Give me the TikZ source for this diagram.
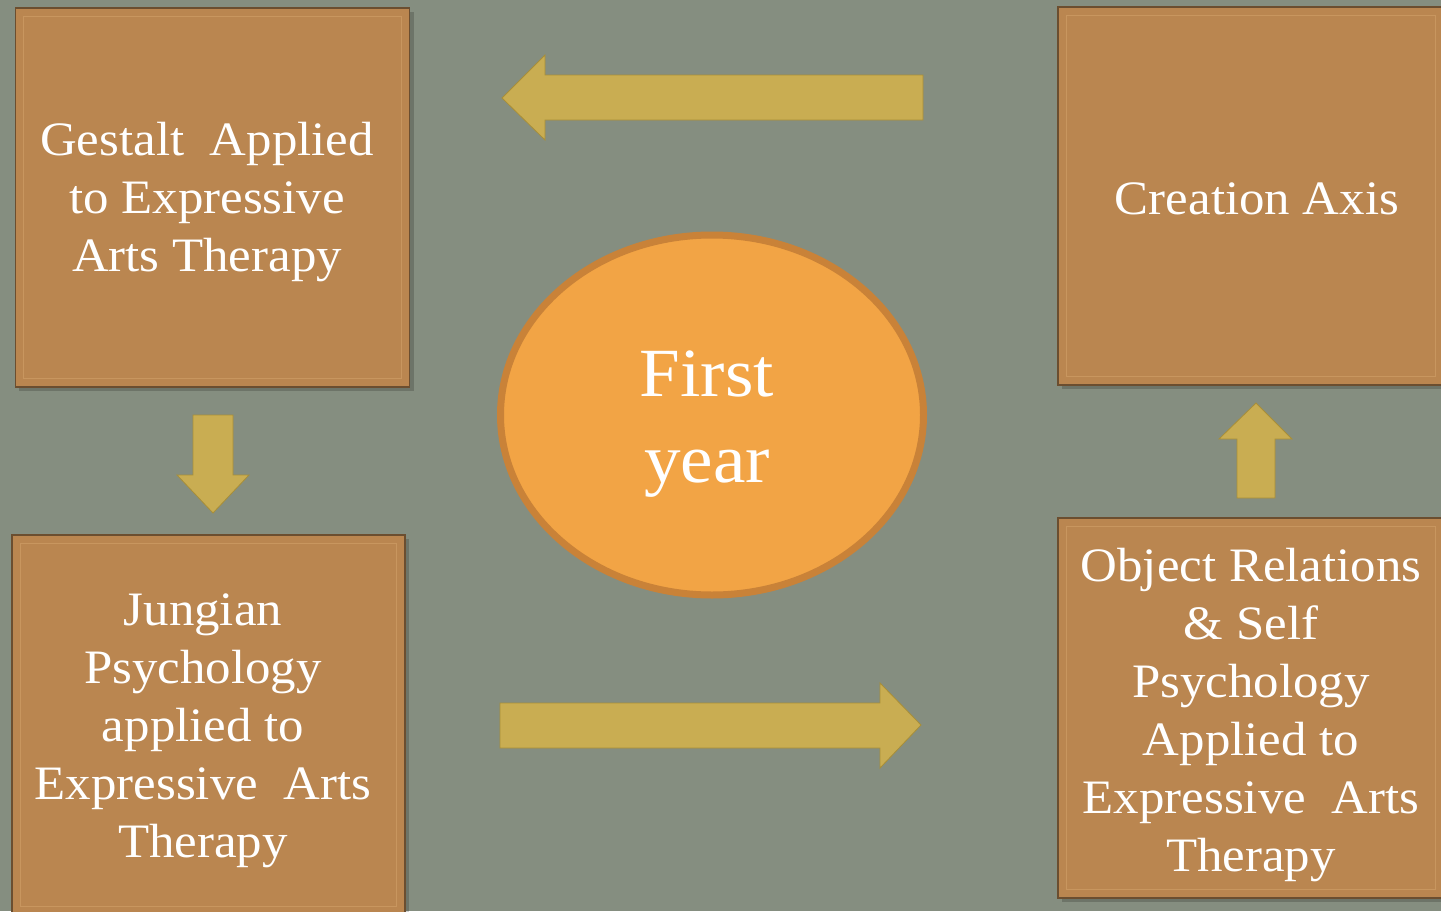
\documentclass[tikz,border=0pt]{standalone}
\usepackage{fontspec}
\setmainfont{Liberation Serif}[FakeStretch=1.06]
\usetikzlibrary{shapes.geometric}
\definecolor{bgc}{HTML}{858E80}
\definecolor{boxc}{HTML}{BA8650}
\definecolor{boxd}{HTML}{6B4E30}
\definecolor{boxl}{HTML}{CF9D66}
\definecolor{arrc}{HTML}{C9AD52}
\definecolor{arrd}{HTML}{A88E38}
\definecolor{circf}{HTML}{F2A445}
\definecolor{circd}{HTML}{C98238}
\tikzset{
  boxnode/.style={rectangle, fill=boxc, draw=boxd, line width=1.5pt, inner sep=0pt},
  boxtext/.style={text=white, align=center, font=\fontsize{48}{58}\selectfont},
  bevel/.style={draw=boxl, line width=1pt, opacity=0.7},
  shadowbox/.style={fill=black, opacity=0.18},
  blockarrow/.style={fill=arrc, draw=arrd, line width=0.8pt, line join=miter},
}
\begin{document}
\begin{tikzpicture}[x=1pt,y=-1pt]
\useasboundingbox (0,0) rectangle (1441,911);
\fill[bgc] (0,0) rectangle (1441,911);
% shadows
\fill[shadowbox] (19,12) rectangle (414,391);
\fill[shadowbox] (16,539) rectangle (409,915);
\fill[shadowbox] (1062,11) rectangle (1445,389);
\fill[shadowbox] (1062,522) rectangle (1445,902);
% boxes
\node[boxnode, minimum width=394pt, minimum height=379pt] (gestalt) at (212.5,197.5) {};
\node[boxnode, minimum width=393pt, minimum height=380pt] (jung) at (208.5,725) {};
\node[boxnode, minimum width=386pt, minimum height=378pt] (axis) at (1251,196) {};
\node[boxnode, minimum width=386pt, minimum height=380pt] (objrel) at (1251,708) {};
\foreach \b in {gestalt,jung,axis,objrel}{
  \draw[bevel] ([shift={(9pt,9pt)}]\b.south west) rectangle ([shift={(-9pt,-9pt)}]\b.north east);
}
% texts
\node[boxtext] (t1) at (207,202) {Gestalt\ \ Applied\\to Expressive\\Arts Therapy};
\node[boxtext] (t2) at (203,731) {Jungian\\Psychology\\applied to\\Expressive\ \ Arts\\Therapy};
\node[boxtext] (t3) at (1257,199) {Creation Axis};
\node[boxtext] (t4) at (1251,715) {Object Relations\\\& Self\\Psychology\\Applied to\\Expressive\ \ Arts\\Therapy};
% circle
\node[ellipse, draw=circd, fill=circf, line width=7pt, minimum width=423pt, minimum height=360pt, inner sep=0pt] (year) at (712,415) {};
\node[text=white, align=center, font=\fontsize{69}{86}\selectfont] (yt) at (707,424) {First\\year};
% arrows
\draw[blockarrow] (923,75) -- (545,75) -- (545,55) -- (502,98) -- (545,140) -- (545,120) -- (923,120) -- cycle;
\draw[blockarrow] (500,703) -- (880,703) -- (880,683) -- (921,725) -- (880,768) -- (880,748) -- (500,748) -- cycle;
\draw[blockarrow] (193,415) -- (233,415) -- (233,475) -- (249,475) -- (213,513) -- (177,475) -- (193,475) -- cycle;
\draw[blockarrow] (1237,498) -- (1275,498) -- (1275,439) -- (1292,439) -- (1256,403) -- (1219,439) -- (1237,439) -- cycle;
\end{tikzpicture}
\end{document}
